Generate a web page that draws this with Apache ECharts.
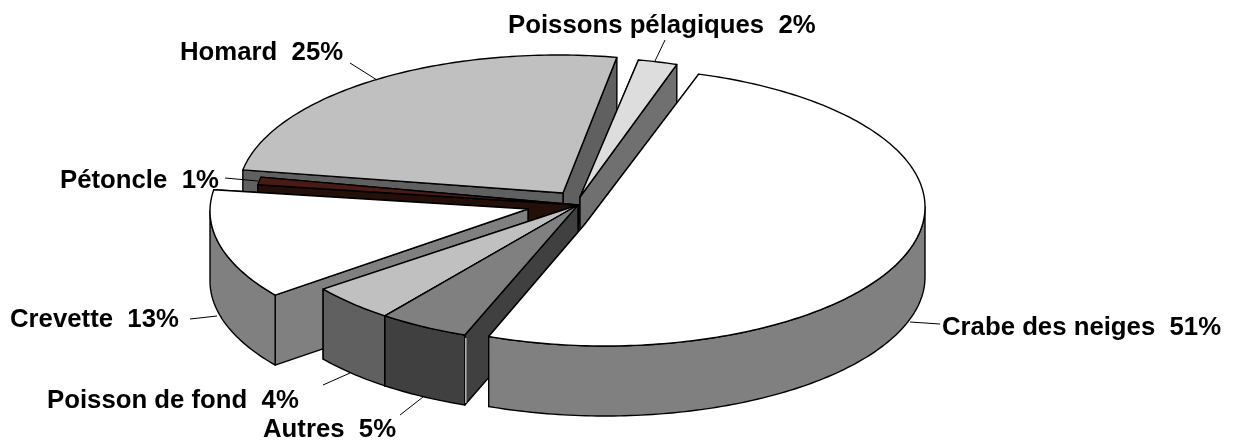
<!DOCTYPE html>
<html>
<head>
<meta charset="utf-8">
<style>
	html, body { margin: 0; padding: 0; background: #fff; }
	#chart { width: 1233px; height: 444px; }
</style>
<script src="https://cdn.jsdelivr.net/npm/echarts@6/dist/echarts.min.js"></script>
</head>
<body>
<div id="chart"></div>
<script>
	// pie order, clockwise from the top
	const names = ['Poissons pélagiques', 'Crabe des neiges', 'Autres', 'Poisson de fond', 'Crevette', 'Pétoncle', 'Homard']
	// shares, labels show them rounded
	const values = [2, 51, 4.6, 4.4, 12.9, 0.9, 25.2]

	// painter order, back to front (indexes into names)
	const drawOrder = [6, 0, 5, 4, 3, 2, 1]

	// layout only, one entry per slice
	const startAngle = 11.8
	const radiusX = 320
	const radiusY = 139
	const depth = 70
	const arcCenters = [[573, 196], [605, 207], [578, 205], [578, 205], [530, 211], [574, 206], [558, 194]]
	const apexes = [[580, 197], [585, 224], [578, 205], [578, 205], [528, 209], [578, 205], [563, 193]]
	// the picture's perspective moves a few cuts off their share, in degrees [start, end]
	const cutNudge = [[0, 0], [-1.9, 0.6], [0, 0], [0, 0], [0, 0], [0, 0], [-2, -1.2]]
	const topColors = ['#dddddd', '#ffffff', '#808080', '#c0c0c0', '#ffffff', '#4a1a14', '#c0c0c0']
	const wallColors = ['#707070', '#808080', '#404040', '#606060', '#808080', '#241008', '#606060']
	const labelPos = [[508, 26], [942, 328], [263, 430], [47, 401], [10, 320], [60, 181], [180, 53]]
	const leaders = [
		[[665, 40], [655, 61]],
		[[910, 322], [940, 324]],
		[[400, 415], [423, 397]],
		[[323, 385], [350, 373]],
		[[190, 319], [217, 316]],
		[[225, 178], [258, 181]],
		[[350, 63], [377, 80]]
	]

	const total = values.reduce((a, b) => a + b, 0)
	const startOf = []
	let acc = startAngle
	values.forEach((v, i) => {
		startOf[i] = acc
		acc += v / total * 360
	})

	function arcPoint(i, deg) {
		const r = deg * Math.PI / 180
		return [arcCenters[i][0] + radiusX * Math.sin(r), arcCenters[i][1] - radiusY * Math.cos(r)]
	}

	function arcPoints(i, from, to) {
		const pts = []
		const n = Math.max(2, Math.ceil(to - from))
		for (let k = 0; k <= n; k++) {
			pts.push(arcPoint(i, from + (to - from) * k / n))
		}
		return pts
	}

	function down(p) {
		return [p[0], p[1] + depth]
	}

	function face(points, fill) {
		return {
			type: 'polygon',
			shape: { points: points },
			style: { fill: fill, stroke: '#000', lineWidth: 1.4, lineJoin: 'round' }
		}
	}

	function renderSlice(params, api) {
		const i = api.value(0)
		const t0 = startOf[i] + cutNudge[i][0]
		const t1 = startOf[i] + api.value(1) / total * 360 + cutNudge[i][1]
		const apex = apexes[i]
		const a = arcPoint(i, t0)
		const b = arcPoint(i, t1)
		const wall = wallColors[i]

		// the two cut walls, the far one first
		const cuts = [a, b].sort((p, q) => p[1] - q[1]).map(p =>
			face([p, apex, down(apex), down(p)], wall))

		const children = cuts.slice()

		// outer wall only on the front half of the ellipse
		const from = Math.max(t0, 90)
		const to = Math.min(t1, 270)
		if (to > from) {
			const rim = arcPoints(i, from, to)
			children.push(face(rim.concat(rim.map(down).reverse()), wall))
		}

		children.push(face([apex].concat(arcPoints(i, t0, t1)), topColors[i]))

		// white seam on the Autres corner
		if (i === 2) {
			children.push({
				type: 'line',
				shape: { x1: a[0] + 1, y1: a[1] + 3, x2: a[0] + 1, y2: a[1] + depth - 2 },
				style: { stroke: '#fff', lineWidth: 1 }
			})
		}
		return { type: 'group', children: children }
	}

	function renderLabel(params, api) {
		const i = api.value(0)
		return {
			type: 'group',
			children: [{
				type: 'line',
				shape: { x1: leaders[i][0][0], y1: leaders[i][0][1], x2: leaders[i][1][0], y2: leaders[i][1][1] },
				style: { stroke: '#000', lineWidth: 1 }
			}, {
				type: 'text',
				x: labelPos[i][0],
				y: labelPos[i][1],
				scaleX: 1.03,
				style: {
					x: 0,
					y: 0,
					text: names[i] + '  ' + Math.round(values[i]) + '%',
					font: 'bold 25px "Liberation Sans", Arial, sans-serif',
					fill: '#000',
					textAlign: 'left',
					textVerticalAlign: 'middle'
				}
			}]
		}
	}

	const chart = echarts.init(document.getElementById('chart'), null, { renderer: 'canvas' })
	chart.setOption({
		animation: false,
		backgroundColor: '#fff',
		series: [{
			type: 'custom',
			coordinateSystem: 'none',
			silent: true,
			renderItem: renderSlice,
			data: drawOrder.map(i => [i, values[i]])
		}, {
			type: 'custom',
			coordinateSystem: 'none',
			silent: true,
			renderItem: renderLabel,
			data: values.map((v, i) => [i, v])
		}]
	})
</script>
</body>
</html>
